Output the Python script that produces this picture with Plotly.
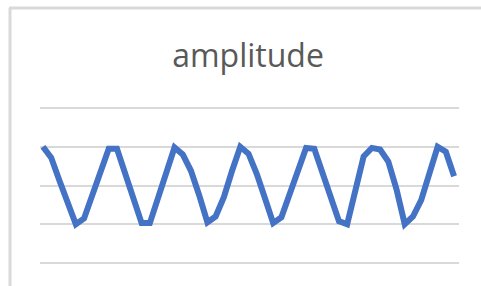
import plotly.graph_objects as go

title_text = "amplitude"
categories = list(range(51))
amplitude = [
    1.00, 0.72, 0.13, -0.44, -1.00, -0.85, -0.25, 0.35, 0.95, 0.95,
    0.31, -0.33, -0.97, -0.97, -0.33, 0.33, 0.98, 0.80, 0.38, -0.25,
    -0.95, -0.80, -0.30, 0.38, 1.00, 0.82, 0.30, -0.33, -0.97, -0.82,
    -0.20, 0.44, 0.97, 0.95, 0.30, -0.33, -0.92, -1.00, -0.13, 0.75,
    0.97, 0.93, 0.62, -0.10, -1.00, -0.80, -0.38, 0.36, 1.00, 0.87,
    0.24,
]
grid_vals = [-2, -1, 0, 1, 2]

W, H = 481, 286
L, R, T, B = 40, 22, 96, 11
pw, ph = W - L - R, H - T - B

def px(x):
    return (x - L) / pw

def py(y):
    return (H - B - y) / ph

fig = go.Figure()
fig.add_trace(go.Scatter(
    x=categories, y=amplitude, mode="lines",
    line=dict(color="#4472C4", width=6),
    hoverinfo="skip", showlegend=False,
))

grey = "#d9d9d9"
fig.update_layout(
    width=W, height=H,
    margin=dict(l=L, r=R, t=T, b=B),
    paper_bgcolor="white", plot_bgcolor="white",
    xaxis=dict(range=[-0.36, 50.6], showgrid=False, zeroline=False,
               showticklabels=False, showline=False, ticks=""),
    yaxis=dict(range=[-2.31, 2.31], tickvals=grid_vals, showgrid=True,
               gridcolor=grey, gridwidth=2, zeroline=False,
               showticklabels=False, showline=False, ticks=""),
    title=dict(text=title_text, x=248 / W, xanchor="center",
               y=1 - 45 / H, yanchor="top",
               font=dict(family="Open Sans", size=32, color="#595959")),
    shapes=[
        dict(type="line", xref="paper", yref="paper",
             x0=px(9), x1=px(481), y0=py(8), y1=py(8),
             line=dict(color=grey, width=3), layer="above"),
        dict(type="line", xref="paper", yref="paper",
             x0=px(10), x1=px(10), y0=py(8), y1=py(286),
             line=dict(color=grey, width=3), layer="above"),
    ],
)

fig.write_html(
    "out.html",
    config={"displayModeBar": False},
    post_script="document.body.style.margin='0';document.body.style.padding='0';",
)
